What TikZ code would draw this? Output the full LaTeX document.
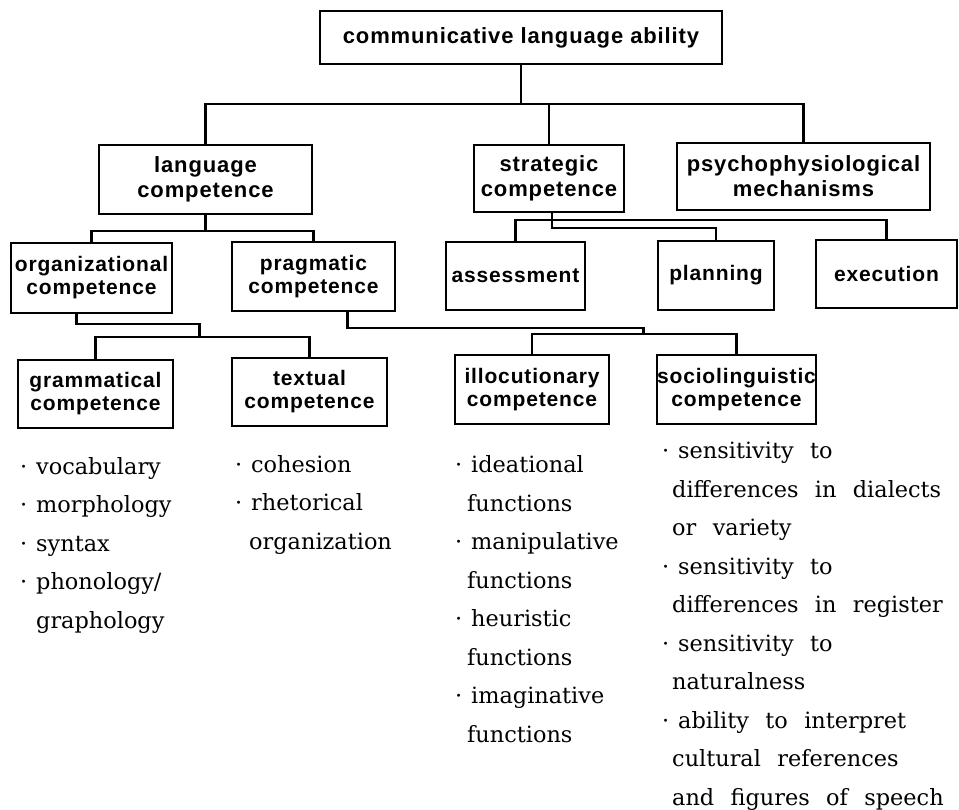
\documentclass[tikz,border=0pt]{standalone}
\usepackage{fontspec}
\usepackage{tikz}
\usetikzlibrary{calc}
\newfontfamily\boxfam[LetterSpace=4]{Liberation Sans}
\newfontfamily\listfam[WordSpace=2.3]{DejaVu Serif}
\newcommand\boxfont{\boxfam\bfseries\fontsize{21}{23}\selectfont}
\newcommand\bigboxfont{\boxfam\bfseries\fontsize{22}{25}\selectfont}
\newcommand\bul{\makebox[16pt][l]{·}}
\newcommand\cont[1][12pt]{\hspace*{#1}}
\tikzset{
  box/.style={draw, line width=2.2pt, inner sep=0pt, align=center, font=\boxfont},
  conn/.style={line width=2.2pt},
  itemlist/.style={anchor=north west, inner sep=0pt, align=left,
    font={\listfam\fontsize{22.4}{38.5}\selectfont}}
}

\begin{document}
\begin{tikzpicture}[x=1pt,y=-1pt]
		%%%%% START %%%%%
		\useasboundingbox (0,0) rectangle (959,810);
		
		% top level
		\node[box, font=\bigboxfont, minimum width=402, minimum height=53] (cla) at (521,37.5) {communicative language ability};
		
		\node[box, font=\bigboxfont, minimum width=213, minimum height=69] (lang) at (205.5,179.5) {language\\competence};
		\node[box, font=\bigboxfont, minimum width=150, minimum height=67] (strat) at (549,178.5) {strategic\\competence};
		\node[box, font=\bigboxfont, minimum width=253, minimum height=67] (psych) at (803.5,176.5) {psychophysiological\\mechanisms};
		
		% second level
		\node[box, minimum width=161, minimum height=70] (org) at (91.5,278) {organizational\\competence};
		\node[box, minimum width=163, minimum height=69] (prag) at (313.5,276.5) {pragmatic\\competence};
		\node[box, minimum width=139, minimum height=68] (assess) at (515.5,276) {assessment};
		\node[box, minimum width=116, minimum height=69] (plan) at (716,275.5) {planning};
		\node[box, minimum width=141, minimum height=68] (exec) at (886.5,274) {execution};
		
		% third level
		\node[box, minimum width=155, minimum height=68] (gram) at (95.5,394) {grammatical\\competence};
		\node[box, minimum width=155, minimum height=68] (textual) at (309.5,392) {textual\\competence};
		\node[box, minimum width=154, minimum height=69] (illoc) at (532,389.5) {illocutionary\\competence};
		\node[box, minimum width=155, minimum height=69] (socio) at (736.5,389.5) {sociolinguistic\\competence};
		
		% connectors
		\draw[conn] (cla.south) -- ++(0,39) coordinate (busA);
		\draw[conn] (lang.north) |- (busA) -| (psych.north);
		\draw[conn] (strat.north) -- (strat.north |- busA);
		
		\draw[conn] (lang.south) -- ++(0,16) coordinate (busB);
		\draw[conn] (org.north) |- (busB) -| (prag.north);
		
		\draw[conn] ([xshift=3pt]strat.south) -- ++(0,15) -| (plan.north);
		\coordinate (busE) at ([xshift=3pt,yshift=-7pt]strat.south);
		\draw[conn] (assess.north) |- (busE) -| (exec.north);
		
		\draw[conn] ([xshift=-15pt]org.south) -- ++(0,10) -| ++(123,13) coordinate (busC);
		\draw[conn] (gram.north) |- (busC) -| (textual.north);
		
		\draw[conn] ([xshift=34pt]prag.south) -- ++(0,16) -| ++(296,6) coordinate (busD);
		\draw[conn] (illoc.north) |- (busD) -| (socio.north);
		
		% lists
		\node[itemlist] (gramlist) at (20,456) {\rule{0pt}{18pt}\bul vocabulary\\\bul morphology\\\bul syntax\\\bul phonology/\\\cont[16pt]graphology};
		\node[itemlist] (textlist) at (235,454) {\rule{0pt}{18pt}\bul cohesion\\\bul rhetorical\\\cont[14pt]organization};
		\node[itemlist] (illoclist) at (455,454.5) {\rule{0pt}{18pt}\bul ideational\\\cont functions\\\bul manipulative\\\cont functions\\\bul heuristic\\\cont functions\\\bul imaginative\\\cont functions};
		\node[itemlist] (sociolist) at (662,440.5) {\rule{0pt}{18pt}\bul sensitivity to\\\cont[10pt]differences in dialects\\\cont[10pt]or variety\\\bul sensitivity to\\\cont[10pt]differences in register\\\bul sensitivity to\\\cont[10pt]naturalness\\\bul ability to interpret\\\cont[10pt]cultural references\\\cont[10pt]and figures of speech};
		
		%%%%% END %%%%%
\end{tikzpicture}
\end{document}
